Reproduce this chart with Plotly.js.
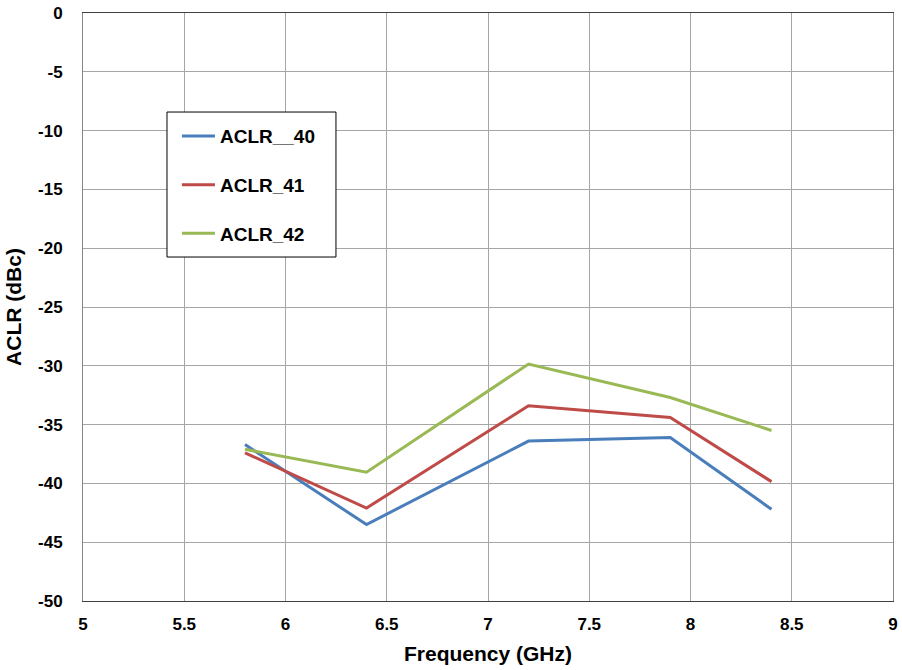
<!DOCTYPE html>
<html><head><meta charset="utf-8">
<script src="https://cdn.plot.ly/plotly-3.0.1.min.js"></script>
<style>body{margin:0;background:#fff}#c{width:902px;height:670px}</style>
</head><body><div id="c"></div>
<script>
const freq = [5.8, 6.4, 7.2, 7.9, 8.4];
const aclr40 = [-36.7, -43.5, -36.4, -36.1, -42.2];
const aclr41 = [-37.4, -42.1, -33.4, -34.4, -39.85];
const aclr42 = [-37.1, -39.05, -29.85, -32.7, -35.5];
const names = ['ACLR__40', 'ACLR_41', 'ACLR_42'];
const colors = ['#4a7ebb', '#be4b48', '#98b954'];
const xTickVals = [5, 5.5, 6, 6.5, 7, 7.5, 8, 8.5, 9];
const xTickText = ['5', '5.5', '6', '6.5', '7', '7.5', '8', '8.5', '9'];
const yTickVals = [0, -5, -10, -15, -20, -25, -30, -35, -40, -45, -50];
const yTickText = ['0', '-5', '-10', '-15', '-20', '-25', '-30', '-35', '-40', '-45', '-50'];
const series = [aclr40, aclr41, aclr42];
const font = 'Liberation Sans, Arial, sans-serif';
const traces = series.map((s, i) => ({
  x: freq, y: s, type: 'scatter', mode: 'lines', name: names[i],
  legendgroup: 'g' + i,
  line: {color: colors[i], width: 3}
}));
const layout = {
  width: 902, height: 670,
  margin: {l: 83, r: 9, t: 13, b: 69},
  paper_bgcolor: '#fff', plot_bgcolor: '#fff',
  font: {family: font, color: '#000'},
  showlegend: true,
  legend: {x: 0.116, y: 0.823, xanchor: 'left', yanchor: 'top',
    borderwidth: 0, bgcolor: 'rgba(0,0,0,0)',
    font: {family: font, size: 19, weight: 'bold', color: '#000'},
    tracegroupgap: 21, traceorder: 'grouped', itemwidth: 33},
  shapes: [{type: 'rect', xref: 'paper', yref: 'paper', x0: 0.1037, x1: 0.3123, y0: 0.585, y1: 0.8316,
    line: {color: '#000', width: 1}, fillcolor: '#fff', layer: 'above'}],
  xaxis: {range: [5, 9], tickmode: 'array', tickvals: xTickVals, ticktext: xTickText,
    showgrid: true, gridcolor: '#a6a6a6', gridwidth: 1,
    showline: true, linecolor: '#404040', linewidth: 1, mirror: true, zeroline: false,
    ticks: '', ticklabelstandoff: 8,
    tickfont: {family: font, size: 17, weight: 'bold'},
    title: {text: 'Frequency (GHz)', font: {family: font, size: 21, weight: 'bold'}, standoff: 12}},
  yaxis: {range: [-50, 0], tickmode: 'array', tickvals: yTickVals, ticktext: yTickText,
    showgrid: true, gridcolor: '#a6a6a6', gridwidth: 1,
    showline: true, linecolor: '#868686', linewidth: 1, mirror: true, zeroline: false,
    ticks: '', ticklabelstandoff: 16,
    tickfont: {family: font, size: 17, weight: 'bold'},
    title: {text: 'ACLR (dBc)', font: {family: font, size: 21, weight: 'bold'}, standoff: 10}}
};
Plotly.newPlot('c', traces, layout, {displayModeBar: false, responsive: false});
</script></body></html>
